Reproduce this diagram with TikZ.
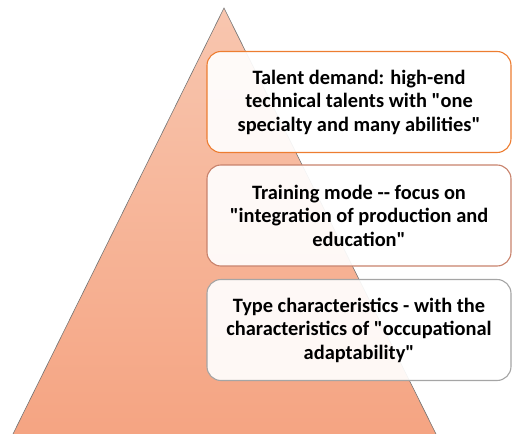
\documentclass[tikz,border=0pt]{standalone}
\usepackage{fontspec}
\setmainfont{Carlito}[Ligatures=TeXOff]
\usepackage{tikz}

\definecolor{pyrtop}{HTML}{F8C6AF}
\definecolor{pyrbot}{HTML}{F5A482}
\definecolor{edgeone}{HTML}{ED7D31}
\definecolor{edgetwo}{HTML}{C8826C}
\definecolor{edgethree}{HTML}{A5A5A5}

\tikzset{
    level/.style={draw, line width=1.1pt, rounded corners=14pt, fill=white, fill opacity=0.92,
        text opacity=1, minimum width=304pt, minimum height=101pt, align=center,
        inner sep=0pt, font=\bfseries\fontsize{20.4}{23.5}\selectfont}
}

\begin{document}
\begin{tikzpicture}[x=1pt,y=-1pt]
    \useasboundingbox (0,0) rectangle (512,434);
    \draw [draw=gray!90!black, line width=0.6pt, top color=pyrtop, bottom color=pyrbot]
        (224,8) coordinate (apex) -- (437,436) -- (12,436) -- cycle;
    \node [level, draw=edgeone] (demand) at (359,102) {Talent demand: high-end\\technical talents with "one\\specialty and many abilities"};
    \node [level, draw=edgetwo] (mode) at (359,215.5) {Training mode -- focus on\\"integration of production and\\education"};
    \node [level, draw=edgethree] (type) at (359,330) {Type characteristics - with the\\characteristics of "occupational\\adaptability"};
\end{tikzpicture}
\end{document}
